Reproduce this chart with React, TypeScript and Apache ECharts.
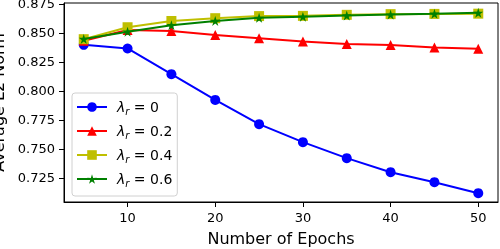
import React, { useEffect, useRef } from "react";
import * as echarts from "echarts";

const epochs = [5, 10, 15, 20, 25, 30, 35, 40, 45, 50];
const lambda0 = [0.8397, 0.8366, 0.8144, 0.7922, 0.7713, 0.7558, 0.742, 0.7299, 0.7213, 0.7118];
const lambda02 = [0.8432, 0.8525, 0.8517, 0.8483, 0.8454, 0.8425, 0.8405, 0.8395, 0.8375, 0.8363];
const lambda04 = [0.8446, 0.8549, 0.8603, 0.8627, 0.8645, 0.8647, 0.8656, 0.8662, 0.8664, 0.8666];
const lambda06 = [0.8448, 0.8511, 0.8566, 0.8603, 0.8630, 0.8640, 0.8650, 0.8658, 0.8665, 0.8673];
const lambdaValues = ["0", "0.2", "0.4", "0.6"];
const xTicks = [10, 20, 30, 40, 50];
const yTicks = [0.725, 0.75, 0.775, 0.8, 0.825, 0.85, 0.875];

const STAR =
  "path://M100,0 L122.33,69.26 L195.11,69.1 L136.14,111.74 L158.78,180.9 L100,138 L41.22,180.9 L63.86,111.74 L4.89,69.1 L77.67,69.26 Z";

export default function App() {
  const ref = useRef<HTMLDivElement>(null);
  useEffect(() => {
    if (!ref.current) return;
    const chart = echarts.init(ref.current, null, { renderer: "svg" });
    const font = "DejaVu Sans";
    const colors = ["#0000ff", "#ff0000", "#bfbf00", "#008000"];
    const symbols = ["circle", "triangle", "rect", STAR];
    const sizes = [10, 10, 10, 10];
    const datasets = [lambda0, lambda02, lambda04, lambda06];
    const names = lambdaValues.map((v) => "λr = " + v);
    chart.setOption({
      animation: false,
      textStyle: { fontFamily: font },
      grid: {
        left: 64,
        right: 2,
        top: 3,
        bottom: 47,
        containLabel: false,
        outerBoundsMode: "none",
        show: true,
        borderColor: "#000",
        borderWidth: 1,
        backgroundColor: "transparent",
      },
      legend: {
        orient: "vertical",
        left: 72,
        top: 93,
        padding: [7, 5, 8, 4],
        itemWidth: 30,
        itemHeight: 12,
        itemGap: 8,
        borderColor: "#d0d0d0",
        borderWidth: 1,
        borderRadius: 3,
        backgroundColor: "rgba(255,255,255,0.8)",
        data: names,
        formatter: (name: string) => {
          const v = name.split("= ")[1];
          return "{l|λ}{s|r}{t| = " + v + "}";
        },
        textStyle: {
          fontFamily: font,
          fontSize: 13,
          color: "#000",
          rich: {
            l: { fontFamily: font, fontStyle: "italic", fontSize: 14, lineHeight: 18, padding: [0, 0, 0, 5] },
            s: { fontFamily: font, fontStyle: "italic", fontSize: 10, lineHeight: 18, verticalAlign: "bottom", padding: [5, 0, 0, 0] },
            t: { fontFamily: font, fontSize: 14, lineHeight: 18 },
          },
        },
      },
      xAxis: {
        type: "value",
        min: 2.75,
        max: 52.25,
        name: "Number of Epochs",
        nameLocation: "middle",
        nameGap: 28,
        nameTextStyle: { fontFamily: font, fontSize: 16, color: "#000" },
        splitLine: { show: false },
        axisLine: { show: true, onZero: false, lineStyle: { color: "#000", width: 1 } },
        axisTick: { show: true, length: 5, lineStyle: { color: "#000" }, customValues: xTicks },
        axisLabel: { fontFamily: font, fontSize: 13, color: "#000", margin: 9, customValues: xTicks },
      },
      yAxis: {
        type: "value",
        min: 0.7042,
        max: 0.8758,
        name: "Average L2 Norm",
        nameLocation: "middle",
        nameRotate: 90,
        nameGap: 55,
        nameTextStyle: { fontFamily: font, fontSize: 16, color: "#000" },
        splitLine: { show: false },
        axisLine: { show: true, onZero: false, lineStyle: { color: "#000", width: 1 } },
        axisTick: { show: true, length: 5, lineStyle: { color: "#000" }, customValues: yTicks },
        axisLabel: {
          fontFamily: font,
          fontSize: 13,
          color: "#000",
          margin: 9,
          customValues: yTicks,
          formatter: (v: number) => v.toFixed(3),
        },
      },
      series: datasets.map((d, i) => ({
        type: "line",
        name: names[i],
        data: d.map((y, j) => [epochs[j], y]),
        symbol: symbols[i],
        symbolSize: sizes[i],
        showAllSymbol: true,
        color: colors[i],
        lineStyle: { color: colors[i], width: 2 },
        itemStyle: { color: colors[i] },
        z: 2 + i,
      })),
    });
    return () => chart.dispose();
  }, []);
  return (
    <div
      ref={ref}
      style={{ position: "fixed", left: 0, top: 0, width: 500, height: 249 }}
    />
  );
}
